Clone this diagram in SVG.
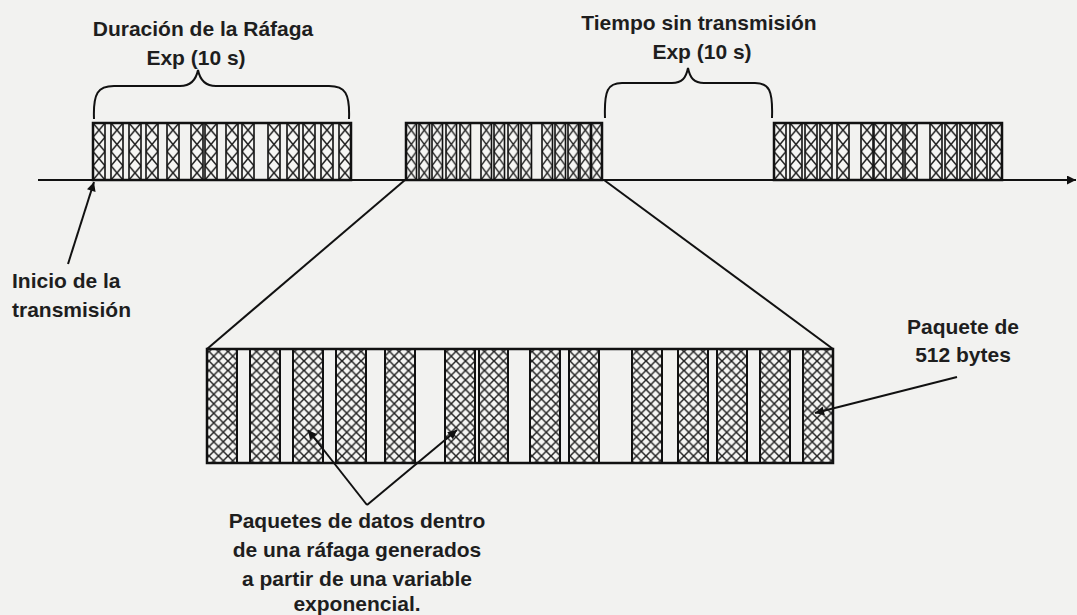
<svg xmlns="http://www.w3.org/2000/svg" width="1077" height="615" viewBox="0 0 1077 615">
<style>
.t{font-family:"Liberation Sans",Arial,sans-serif;font-size:21px;font-weight:bold;fill:#1e1e1e}
.ln{stroke:#111;stroke-width:2;fill:none}
.box{fill:none;stroke:#111;stroke-width:2.5}
.sb{fill:url(#sx);stroke:#111;stroke-width:1.6}
.bb{fill:url(#xh);stroke:#111;stroke-width:2}
</style>
<defs>
<pattern id="sx" patternUnits="objectBoundingBox" width="1" height="0.25" viewBox="0 0 12 14" preserveAspectRatio="none">
<rect width="12" height="14" fill="#f6f6f4"/>
<path d="M0,0L12,14M12,0L0,14" stroke="#222" stroke-width="1.5"/>
</pattern>
<pattern id="xh" patternUnits="userSpaceOnUse" width="9.5" height="9.5">
<rect width="9.5" height="9.5" fill="#f6f6f4"/>
<path d="M0,0L9.5,9.5M9.5,0L0,9.5" stroke="#222" stroke-width="1.5"/>
</pattern>
<marker id="ah" viewBox="0 0 10 10" refX="10" refY="5" markerWidth="13" markerHeight="9" markerUnits="userSpaceOnUse" orient="auto">
<path d="M0,0L10,5L0,10z" fill="#111"/>
</marker>
</defs>
<rect width="1077" height="615" fill="#f2f2f0"/>

<g id="axis">
<line x1="38" y1="180" x2="1076" y2="180" class="ln" marker-end="url(#ah)"/>
</g>

<g id="burst1">
<rect x="93" y="123" width="12" height="57" class="sb"/>
<rect x="111" y="123" width="12" height="57" class="sb"/>
<rect x="129" y="123" width="12" height="57" class="sb"/>
<rect x="146" y="123" width="12" height="57" class="sb"/>
<rect x="167" y="123" width="12" height="57" class="sb"/>
<rect x="191" y="123" width="12" height="57" class="sb"/>
<rect x="205" y="123" width="12" height="57" class="sb"/>
<rect x="226" y="123" width="12" height="57" class="sb"/>
<rect x="242" y="123" width="12" height="57" class="sb"/>
<rect x="268" y="123" width="12" height="57" class="sb"/>
<rect x="287" y="123" width="12" height="57" class="sb"/>
<rect x="303" y="123" width="12" height="57" class="sb"/>
<rect x="321" y="123" width="12" height="57" class="sb"/>
<rect x="339" y="123" width="12" height="57" class="sb"/>
<rect x="93" y="123" width="258" height="57" class="box"/>
</g>

<g id="burst2">
<rect x="406" y="123" width="10.5" height="57" class="sb"/>
<rect x="419" y="123" width="10.5" height="57" class="sb"/>
<rect x="432" y="123" width="10.5" height="57" class="sb"/>
<rect x="446" y="123" width="10.5" height="57" class="sb"/>
<rect x="460" y="123" width="10.5" height="57" class="sb"/>
<rect x="481" y="123" width="10.5" height="57" class="sb"/>
<rect x="494" y="123" width="10.5" height="57" class="sb"/>
<rect x="508" y="123" width="10.5" height="57" class="sb"/>
<rect x="521" y="123" width="10.5" height="57" class="sb"/>
<rect x="542" y="123" width="10.5" height="57" class="sb"/>
<rect x="555" y="123" width="10.5" height="57" class="sb"/>
<rect x="568" y="123" width="10.5" height="57" class="sb"/>
<rect x="580" y="123" width="10.5" height="57" class="sb"/>
<rect x="591.5" y="123" width="10.5" height="57" class="sb"/>
<rect x="406" y="123" width="196" height="57" class="box"/>
</g>

<g id="burst3">
<rect x="774" y="123" width="12" height="57" class="sb"/>
<rect x="790" y="123" width="12" height="57" class="sb"/>
<rect x="805" y="123" width="12" height="57" class="sb"/>
<rect x="820" y="123" width="12" height="57" class="sb"/>
<rect x="837" y="123" width="12" height="57" class="sb"/>
<rect x="861" y="123" width="12" height="57" class="sb"/>
<rect x="874" y="123" width="12" height="57" class="sb"/>
<rect x="891" y="123" width="12" height="57" class="sb"/>
<rect x="905" y="123" width="12" height="57" class="sb"/>
<rect x="930" y="123" width="12" height="57" class="sb"/>
<rect x="945" y="123" width="12" height="57" class="sb"/>
<rect x="960" y="123" width="12" height="57" class="sb"/>
<rect x="975" y="123" width="12" height="57" class="sb"/>
<rect x="990" y="123" width="12" height="57" class="sb"/>
<rect x="774" y="123" width="228" height="57" class="box"/>
</g>

<g id="zoom-box">
<rect x="207" y="349" width="30" height="114" class="bb"/>
<rect x="250" y="349" width="30" height="114" class="bb"/>
<rect x="293" y="349" width="30" height="114" class="bb"/>
<rect x="336" y="349" width="30" height="114" class="bb"/>
<rect x="385" y="349" width="30" height="114" class="bb"/>
<rect x="445" y="349" width="30" height="114" class="bb"/>
<rect x="479" y="349" width="29" height="114" class="bb"/>
<rect x="530" y="349" width="30" height="114" class="bb"/>
<rect x="569" y="349" width="30" height="114" class="bb"/>
<rect x="632" y="349" width="30" height="114" class="bb"/>
<rect x="678" y="349" width="30" height="114" class="bb"/>
<rect x="717" y="349" width="30" height="114" class="bb"/>
<rect x="760" y="349" width="30" height="114" class="bb"/>
<rect x="803" y="349" width="30" height="114" class="bb"/>
<rect x="207" y="349" width="626" height="114" class="box"/>
</g>

<g id="label-duracion">
<path d="M94,119 C93,93 98,86 114,86 L180,86 C191,86 196,80 198,70 C200,80 205,86 216,86 L329,86 C345,86 350,93 349,119" class="ln" stroke-width="3"/>
<text class="t" x="203" y="36" text-anchor="middle">Duración de la Ráfaga</text>
<text class="t" x="196" y="65" text-anchor="middle">Exp (10 s)</text>
</g>

<g id="label-tiempo">
<path d="M605,118 C604,90 608,83 622,83 L672,83 C682,83 686,78 688,68 C690,78 694,83 704,83 L755,83 C769,83 773,90 772,118" class="ln" stroke-width="3"/>
<text class="t" x="699" y="30" text-anchor="middle">Tiempo sin transmisión</text>
<text class="t" x="702" y="59" text-anchor="middle">Exp (10 s)</text>
</g>

<g id="label-inicio">
<text class="t" x="12" y="288">Inicio de la</text>
<text class="t" x="12" y="317">transmisión</text>
</g>

<g id="label-paquete">
<text class="t" x="963" y="334" text-anchor="middle">Paquete de</text>
<text class="t" x="963" y="362" text-anchor="middle">512 bytes</text>
</g>

<g id="label-paquetes">
<text class="t" x="357" y="528" text-anchor="middle">Paquetes de datos dentro</text>
<text class="t" x="357" y="557" text-anchor="middle">de una ráfaga generados</text>
<text class="t" x="357" y="586" text-anchor="middle">a partir de una variable</text>
<text class="t" x="357" y="611" text-anchor="middle">exponencial.</text>
</g>

<g id="connectors">
<line x1="405" y1="180" x2="207" y2="349" class="ln"/>
<line x1="604" y1="180" x2="833" y2="349" class="ln"/>
<line x1="68" y1="264" x2="94" y2="182" class="ln" marker-end="url(#ah)"/>
<line x1="957" y1="377" x2="815" y2="413" class="ln" marker-end="url(#ah)"/>
<line x1="367" y1="505" x2="308" y2="430" class="ln" marker-end="url(#ah)"/>
<line x1="367" y1="505" x2="457" y2="430" class="ln" marker-end="url(#ah)"/>
</g>
</svg>
